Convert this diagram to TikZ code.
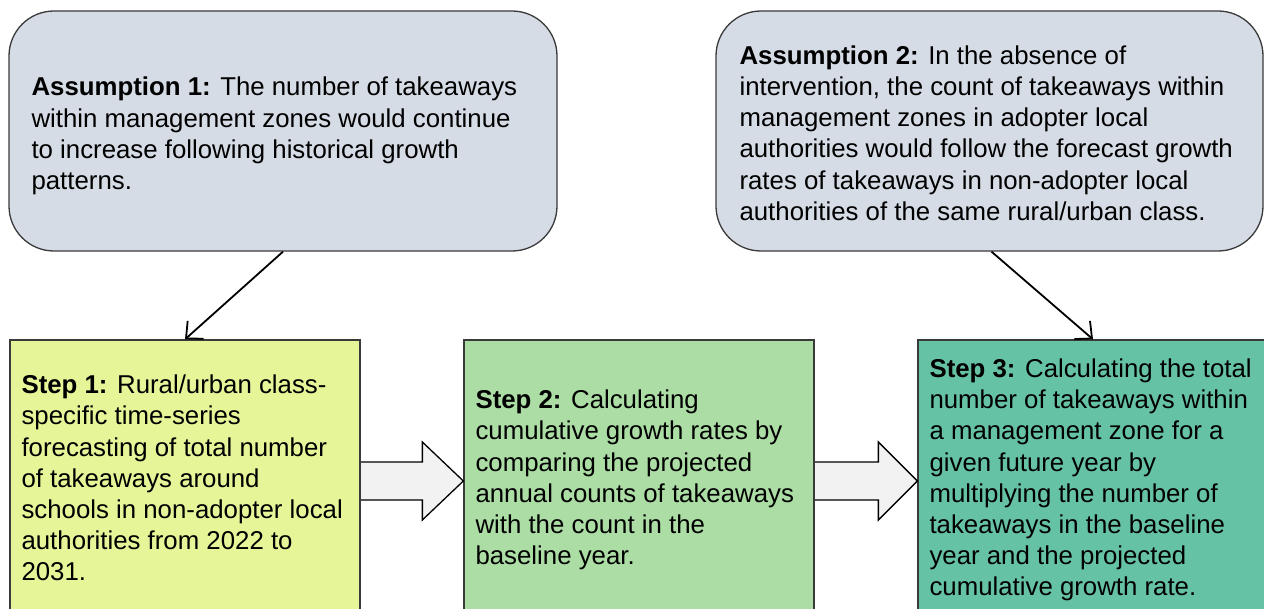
\documentclass[tikz,border=0pt]{standalone}
\usepackage{fontspec}
\setmainfont{Liberation Sans}
\usetikzlibrary{arrows.meta,calc}
\definecolor{assumfill}{HTML}{D6DCE5}
\definecolor{stepA}{HTML}{E6F598}
\definecolor{stepB}{HTML}{ABDDA4}
\definecolor{stepC}{HTML}{66C2A5}
\definecolor{edgecol}{HTML}{3A3A3A}
\definecolor{blockfill}{HTML}{F2F2F2}
\tikzset{
  assumbox/.style={draw=edgecol, line width=1.3pt, fill=assumfill, rounded corners=45pt,
    minimum width=548pt, minimum height=240pt, inner sep=0pt},
  stepbox/.style={draw=edgecol, line width=1.3pt, minimum width=350pt, minimum height=276pt, inner sep=0pt},
  txt/.style={align=left, inner sep=0pt, anchor=west, font=\fontsize{25.8pt}{31.2pt}\selectfont},
  conn/.style={line width=1.8pt, -{Straight Barb[length=13pt,width=24pt,line width=1.8pt]}},
  blockarrow/.style={draw=black, line width=1.3pt, fill=blockfill, line join=miter}
}
\begin{document}
\begin{tikzpicture}[x=1pt,y=-1pt]
\useasboundingbox (0,0) rectangle (1264,609);
% boxes
\node[assumbox] (a1) at (283,131) {};
\node[assumbox, minimum width=547pt] (a2) at (989.5,131) {};
\node[stepbox, fill=stepA] (s1) at (185,478) {};
\node[stepbox, fill=stepB] (s2) at (639,478) {};
\node[stepbox, fill=stepC] (s3) at (1093,478) {};
% texts
\node[txt] (a1t) at ($(a1.west)+(23,5)$) {\textbf{Assumption 1:} The number of takeaways\\within management zones would continue\\to increase following historical growth\\patterns.};
\node[txt] (a2t) at ($(a2.west)+(24,2)$) {\textbf{Assumption 2:} In the absence of\\intervention, the count of takeaways within\\management zones in adopter local\\authorities would follow the forecast growth\\rates of takeaways in non-adopter local\\authorities of the same rural/urban class.};
\node[txt] (s1t) at ($(s1.west)+(12,0)$) {\textbf{Step 1:} Rural/urban class-\\specific time-series\\forecasting of total number\\of takeaways around\\schools in non-adopter local\\authorities from 2022 to\\2031.};
\node[txt] (s2t) at ($(s2.west)+(12,2)$) {\textbf{Step 2:} Calculating\\cumulative growth rates by\\comparing the projected\\annual counts of takeaways\\with the count in the\\baseline year.};
\node[txt] (s3t) at ($(s3.west)+(12,2)$) {\textbf{Step 3:} Calculating the total\\number of takeaways within\\a management zone for a\\given future year by\\multiplying the number of\\takeaways in the baseline\\year and the projected\\cumulative growth rate.};
% block arrows
\draw[blockarrow] ($(s1.east)+(0,-16)$) -- ($(s2.west)+(-41,-16)$) -- ($(s2.west)+(-41,-36)$)
  -- ($(s2.west)+(0,3)$) -- ($(s2.west)+(-41,42)$) -- ($(s2.west)+(-41,22)$) -- ($(s1.east)+(0,22)$);
\draw[blockarrow] ($(s2.east)+(0,-16)$) -- ($(s3.west)+(-39,-16)$) -- ($(s3.west)+(-39,-36)$)
  -- ($(s3.west)+(0,3)$) -- ($(s3.west)+(-39,42)$) -- ($(s3.west)+(-39,22)$) -- ($(s2.east)+(0,22)$);
% redraw step box borders over the arrow ends
\draw[draw=edgecol, line width=1.3pt] (s1.north east) -- (s1.south east);
\draw[draw=edgecol, line width=1.3pt] (s2.north east) -- (s2.south east);
% connectors
\draw[conn] (a1.south) -- (s1.north);
\draw[conn] ($(a2.south)+(2,0)$) -- (s3.north);
\end{tikzpicture}
\end{document}
